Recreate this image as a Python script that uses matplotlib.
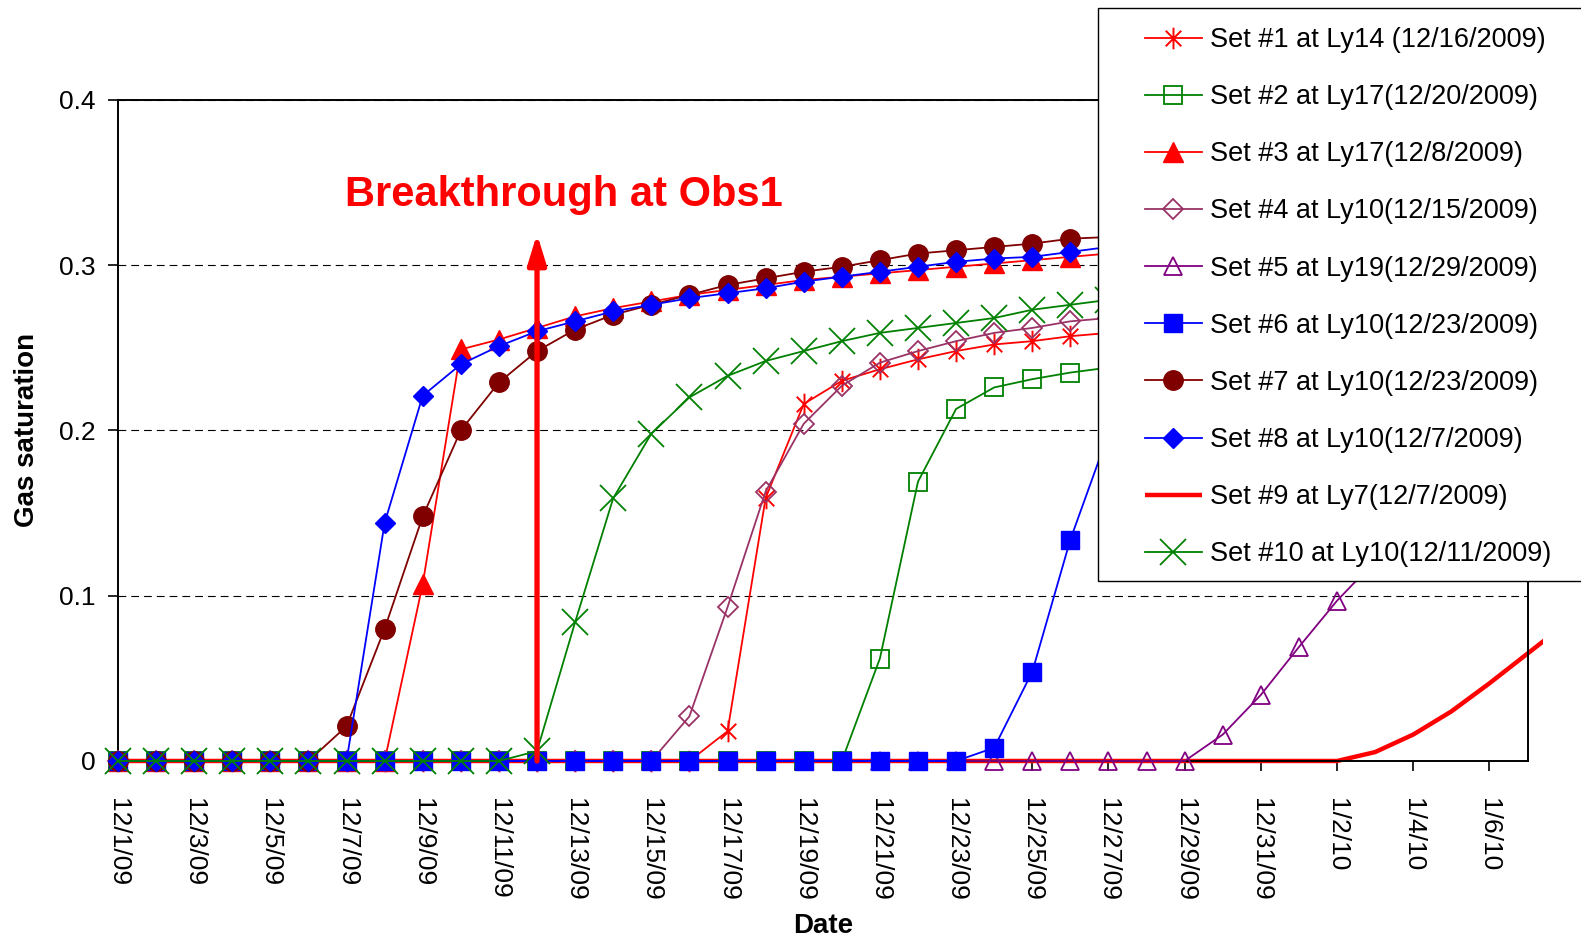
import numpy as np
import pandas as pd
import matplotlib
matplotlib.use("Agg")
import matplotlib.pyplot as plt
from matplotlib.path import Path
from matplotlib.patches import Rectangle
from matplotlib.transforms import Bbox, TransformedBbox

plt.rcParams['font.family'] = ['Liberation Sans', 'DejaVu Sans']

# daily dates, 12/1/2009 onwards
dates = pd.date_range('2009-12-01', periods=39, freq='D')

tick_labels = ['12/1/09', '12/3/09', '12/5/09', '12/7/09', '12/9/09', '12/11/09',
               '12/13/09', '12/15/09', '12/17/09', '12/19/09', '12/21/09', '12/23/09',
               '12/25/09', '12/27/09', '12/29/09', '12/31/09', '1/2/10', '1/4/10', '1/6/10']

set1 = [0, 0, 0, 0, 0, 0, 0, 0, 0, 0, 0, 0, 0, 0, 0, 0,
        0.018, 0.159, 0.216, 0.230, 0.237, 0.243, 0.248, 0.252, 0.254, 0.257, 0.259,
        0.261, 0.263, 0.265, 0.266, 0.268, 0.269, 0.270, 0.271, 0.272, 0.273, 0.274]
set2 = [0, 0, 0, 0, 0, 0, 0, 0, 0, 0, 0, 0, 0, 0, 0, 0, 0, 0, 0, 0,
        0.062, 0.169, 0.213, 0.226, 0.231, 0.235, 0.238, 0.241, 0.243, 0.245,
        0.247, 0.249, 0.250, 0.251, 0.252, 0.253, 0.254, 0.255]
set3 = [0, 0, 0, 0, 0, 0, 0, 0,
        0.107, 0.249, 0.255, 0.262, 0.269, 0.274, 0.278, 0.282, 0.285, 0.288,
        0.291, 0.293, 0.295, 0.297, 0.299, 0.301, 0.303, 0.305, 0.307, 0.309,
        0.310, 0.312, 0.313, 0.314, 0.315, 0.316, 0.317, 0.318, 0.319, 0.320]
set4 = [0, 0, 0, 0, 0, 0, 0, 0, 0, 0, 0, 0, 0, 0, 0,
        0.027, 0.093, 0.163, 0.204, 0.227, 0.241, 0.248, 0.254, 0.259, 0.262,
        0.266, 0.268, 0.270, 0.272, 0.274, 0.275, 0.277, 0.278, 0.279, 0.280,
        0.281, 0.282, 0.283]
set5 = [0, 0, 0, 0, 0, 0, 0, 0, 0, 0, 0, 0, 0, 0, 0, 0, 0, 0, 0, 0,
        0, 0, 0, 0, 0, 0, 0, 0, 0,
        0.016, 0.040, 0.069, 0.097, 0.121, 0.142, 0.160, 0.176, 0.190]
set6 = [0, 0, 0, 0, 0, 0, 0, 0, 0, 0, 0, 0, 0, 0, 0, 0, 0, 0, 0, 0,
        0, 0, 0,
        0.008, 0.054, 0.134, 0.198, 0.232, 0.248, 0.258, 0.265, 0.270, 0.274,
        0.277, 0.280, 0.282, 0.284, 0.286]
set7 = [0, 0, 0, 0, 0, 0,
        0.021, 0.080, 0.148, 0.200, 0.229, 0.248, 0.261, 0.270, 0.276, 0.282,
        0.288, 0.292, 0.296, 0.299, 0.303, 0.307, 0.309, 0.311, 0.313, 0.316,
        0.317, 0.319, 0.321, 0.322, 0.324, 0.325, 0.326, 0.327, 0.328, 0.329,
        0.330, 0.331]
set8 = [0, 0, 0, 0, 0, 0, 0,
        0.144, 0.221, 0.240, 0.251, 0.260, 0.266, 0.272, 0.276, 0.280, 0.283,
        0.286, 0.290, 0.293, 0.296, 0.299, 0.302, 0.304, 0.305, 0.308, 0.311,
        0.313, 0.315, 0.316, 0.318, 0.319, 0.320, 0.321, 0.322, 0.323, 0.324,
        0.325]
set9 = [0, 0, 0, 0, 0, 0, 0, 0, 0, 0, 0, 0, 0, 0, 0, 0, 0, 0, 0, 0,
        0, 0, 0, 0, 0, 0, 0, 0, 0, 0, 0, 0, 0,
        0.0054, 0.016, 0.030, 0.047, 0.065, 0.083]
set10 = [0, 0, 0, 0, 0, 0, 0, 0, 0, 0, 0,
         0.006, 0.084, 0.159, 0.198, 0.220, 0.233, 0.242, 0.248, 0.254, 0.259,
         0.262, 0.265, 0.268, 0.273, 0.276, 0.279, 0.281, 0.283, 0.285, 0.287,
         0.288, 0.290, 0.291, 0.292, 0.293, 0.294, 0.295]

labels = ['Set #1 at Ly14 (12/16/2009)', 'Set #2 at Ly17(12/20/2009)',
          'Set #3 at Ly17(12/8/2009)', 'Set #4 at Ly10(12/15/2009)',
          'Set #5 at Ly19(12/29/2009)', 'Set #6 at Ly10(12/23/2009)',
          'Set #7 at Ly10(12/23/2009)', 'Set #8 at Ly10(12/7/2009)',
          'Set #9 at Ly7(12/7/2009)', 'Set #10 at Ly10(12/11/2009)']

breakthrough_day = 11  # 12/12/09
arrow_top = 0.319

# asterisk marker like excel: vertical bar + x
star = Path([(0, -1), (0, 1), (-0.72, -0.72), (0.72, 0.72), (-0.72, 0.72), (0.72, -0.72)],
            [Path.MOVETO, Path.LINETO, Path.MOVETO, Path.LINETO, Path.MOVETO, Path.LINETO])

styles = [
    dict(color='#FF0000', marker=star, ms=15.5, mfc='none', mew=1.4),
    dict(color='#008000', marker='s', ms=12.5, mfc='none', mew=1.3),
    dict(color='#FF0000', marker='^', ms=15, mfc='#FF0000'),
    dict(color='#993366', marker='D', ms=10.5, mfc='none', mew=1.3),
    dict(color='#800080', marker='^', ms=13, mfc='none', mew=1.3),
    dict(color='#0000FF', marker='s', ms=13, mfc='#0000FF'),
    dict(color='#800000', marker='o', ms=14, mfc='#800000'),
    dict(color='#0000FF', marker='D', ms=10, mfc='#0000FF'),
    None,
    dict(color='#008000', marker='x', ms=19, mfc='none', mew=1.3),
]
series = [set1, set2, set3, set4, set5, set6, set7, set8, set9, set10]

fig = plt.figure(figsize=(15.81, 9.41), dpi=100)
ax = fig.add_axes([0.0746, 0.1913, 0.9662 - 0.0746, 0.8939 - 0.1913])

handles = []
for i, vals in enumerate(series):
    x = dates[:len(vals)]
    if styles[i] is None:
        ln, = ax.plot(x, vals, color='#FF0000', lw=3.2, zorder=2, solid_capstyle='butt')
        ln.set_clip_box(TransformedBbox(Bbox.from_extents(-0.01, -0.05, 1.0113, 1.05), ax.transAxes))
    else:
        st = styles[i]
        ln, = ax.plot(x, vals, color=st['color'], lw=1.3, marker=st['marker'], ms=st['ms'],
                      mfc=st['mfc'], mec=st['color'], mew=st.get('mew', 1.0),
                      zorder=3 + i * 0.01, clip_on=False)
    handles.append(ln)

ax.set_xlim(dates[0], dates[37])
ax.set_ylim(0, 0.4)
ax.set_xticks(dates[0:37:2])
ax.set_xticklabels(tick_labels, rotation=270, fontsize=19, va='top', ha='center')
ax.set_yticks([0, 0.1, 0.2, 0.3, 0.4])
ax.set_yticklabels(['0', '0.1', '0.2', '0.3', '0.4'], fontsize=19)
ax.tick_params(axis='x', direction='out', length=7, width=1.2, pad=20)
ax.tick_params(axis='y', direction='out', length=7, width=1.2, pad=9)
for s in ax.spines.values():
    s.set_linewidth(1.4)
ax.yaxis.grid(True, color='black', lw=0.8, linestyle=(0, (7, 4.5)))
ax.set_axisbelow(True)

ax.text(-0.0646, 0.5, 'Gas saturation', rotation=90, ha='center', va='center',
        fontsize=20, fontweight='bold', transform=ax.transAxes)
fig.text(0.5204, 0.0164, 'Date', ha='center', va='center', fontsize=20, fontweight='bold')

ax.annotate('', xy=(dates[breakthrough_day], arrow_top), xytext=(dates[breakthrough_day], 0),
            arrowprops=dict(arrowstyle='-|>,head_length=1.8,head_width=0.55', color='#FF0000',
                            lw=3.8, mutation_scale=10, shrinkA=0, shrinkB=0), zorder=4)
ax.text(0.3161, 0.8566, 'Breakthrough at Obs1', color='#FF0000', fontsize=30,
        fontweight='bold', ha='center', va='center', transform=ax.transAxes)

# legend box (runs off the right edge like the original)
fig.add_artist(Rectangle((0.6945, 0.3828), 0.4, 0.9914 - 0.3828, transform=fig.transFigure,
                         facecolor='white', edgecolor='black', lw=1.0, zorder=4))
fig.legend(handles, labels, loc='upper left', bbox_to_anchor=(1145 / 1581, 0.9713),
           frameon=False, fontsize=19.5, borderpad=0, borderaxespad=0,
           labelspacing=1.15, handlelength=2.1, handletextpad=0.3)

fig.savefig('out.png', dpi=100)
